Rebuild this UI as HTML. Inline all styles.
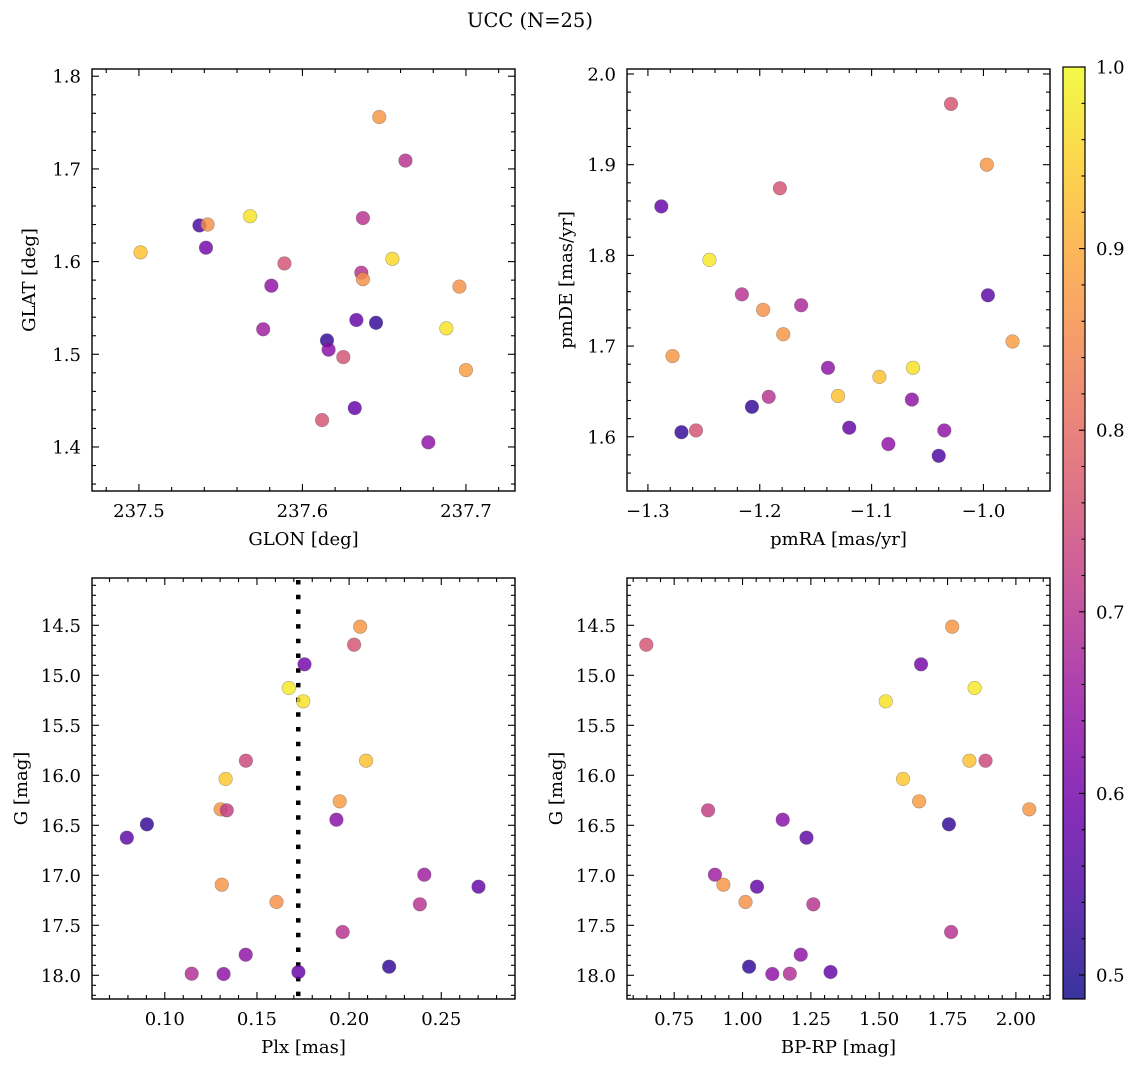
<!DOCTYPE html>
<html><head><meta charset="utf-8">
<style>
html,body{margin:0;padding:0;background:#fff;}
svg{display:block;font-family:"DejaVu Serif","Liberation Serif",serif;}
</style></head>
<body>
<svg id="fig" width="1136" height="1067" viewBox="0 0 1136 1067" xmlns="http://www.w3.org/2000/svg">
<defs>
<linearGradient id="cbgrad" x1="0" y1="1" x2="0" y2="0"></linearGradient>
</defs>
<text x="530" y="27" font-size="19.5" text-anchor="middle">UCC (N=25)</text>
<g id="root"></g>
</svg>
<script>
// ---------- data ----------
const glon = [237.647,237.663,237.568,237.537,237.542,237.637,237.501,237.541,237.589,237.655,237.636,237.637,237.581,237.696,237.633,237.645,237.576,237.688,237.615,237.616,237.625,237.700,237.632,237.612,237.677];
const glat = [1.756,1.709,1.649,1.639,1.640,1.647,1.610,1.615,1.598,1.603,1.588,1.581,1.574,1.573,1.537,1.534,1.527,1.528,1.515,1.505,1.497,1.483,1.442,1.429,1.405];
const probTL = [0.87,0.7,0.97,0.55,0.86,0.7,0.93,0.6,0.76,0.96,0.7,0.86,0.64,0.86,0.58,0.52,0.66,0.97,0.52,0.63,0.76,0.88,0.58,0.76,0.64];

const pmra = [-1.029,-0.997,-1.182,-1.288,-1.245,-0.996,-1.216,-1.163,-1.197,-1.179,-1.278,-0.974,-1.139,-1.063,-1.093,-1.130,-1.192,-1.064,-1.207,-1.120,-1.257,-1.270,-1.035,-1.085,-1.040];
const pmde = [1.967,1.900,1.874,1.854,1.795,1.756,1.757,1.745,1.740,1.713,1.689,1.705,1.676,1.676,1.666,1.645,1.644,1.641,1.633,1.610,1.607,1.605,1.607,1.592,1.579];
const probTR = [0.76,0.87,0.76,0.58,0.98,0.57,0.7,0.68,0.86,0.87,0.87,0.88,0.64,0.97,0.93,0.93,0.7,0.64,0.52,0.58,0.76,0.52,0.64,0.64,0.55];

const plx = [0.2060,0.2027,0.1758,0.1673,0.1751,0.1440,0.2092,0.1330,0.1949,0.1303,0.1336,0.1931,0.0903,0.0794,0.2408,0.2702,0.1309,0.1606,0.2384,0.1965,0.1439,0.2217,0.1146,0.1319,0.1725];
const gmag = [14.514,14.694,14.890,15.127,15.260,15.854,15.854,16.037,16.260,16.340,16.350,16.444,16.490,16.624,16.994,17.114,17.094,17.267,17.290,17.567,17.794,17.914,17.984,17.987,17.967];
const bprp = [1.767,0.648,1.653,1.849,1.524,1.889,1.830,1.587,1.646,2.049,0.874,1.147,1.755,1.234,0.899,1.053,0.930,1.011,1.259,1.763,1.213,1.024,1.173,1.109,1.322];
const probCMD = [0.87,0.76,0.6,0.98,0.97,0.74,0.93,0.94,0.88,0.87,0.72,0.63,0.52,0.57,0.66,0.58,0.87,0.86,0.7,0.7,0.64,0.52,0.69,0.64,0.58];
const plxMedian = [0.1724];

const ticksGlon = [237.5,237.6,237.7];
const ticksGlat = [1.4,1.5,1.6,1.7,1.8];
const ticksPmra = [-1.3,-1.2,-1.1,-1.0];
const ticksPmde = [1.6,1.7,1.8,1.9,2.0];
const ticksPlx = [0.10,0.15,0.20,0.25];
const ticksG = [14.5,15.0,15.5,16.0,16.5,17.0,17.5,18.0];
const ticksBprp = [0.75,1.00,1.25,1.50,1.75,2.00];
const ticksCbar = [0.5,0.6,0.7,0.8,0.9,1.0];

// ---------- helpers ----------
const NS = "http://www.w3.org/2000/svg";
const root = document.getElementById('root');
const FS = 18;
const plasma = ["#0d0887","#41049d","#6a00a8","#8f0da4","#b12a90","#cc4778","#e16462","#f2844b","#fca636","#fcce25","#f0f921"];
const VMIN = 0.4868, VMAX = 1.0;
function hex2rgb(h){return [parseInt(h.slice(1,3),16),parseInt(h.slice(3,5),16),parseInt(h.slice(5,7),16)];}
function cmap(v){
  let t=(v-VMIN)/(VMAX-VMIN); t=Math.max(0,Math.min(1,t));
  const p=t*10, i=Math.min(9,Math.floor(p)), f=p-i;
  const a=hex2rgb(plasma[i]), b=hex2rgb(plasma[i+1]);
  return 'rgb('+a.map((x,k)=>Math.round(x+(b[k]-x)*f)).join(',')+')';
}
function el(tag, attrs, parent){
  const e=document.createElementNS(NS,tag);
  for(const k in attrs) e.setAttribute(k,attrs[k]);
  (parent||root).appendChild(e); return e;
}
function fmt(v,d){return (v<0?'\u2212':'')+Math.abs(v).toFixed(d);}

function panel(cfg){
  const {x0,x1,y0,y1,xmin,xmax,ymin,ymax,invY} = cfg;
  const sx = v => x0 + (v-xmin)/(xmax-xmin)*(x1-x0);
  const sy = v => invY ? y0 + (v-ymin)/(ymax-ymin)*(y1-y0) : y1 - (v-ymin)/(ymax-ymin)*(y1-y0);
  const g = el('g',{});
  
  
  const tk = el('g',{stroke:'#000','stroke-width':1.1},g);
  
  
  const xlo=Math.min(xmin,xmax), xhi=Math.max(xmin,xmax);
  for(let k=Math.ceil(xlo/cfg.xminor-1e-6); k*cfg.xminor<=xhi+1e-9; k++){
    const v=k*cfg.xminor, px=sx(v);
    const major = cfg.xticks.some(t=>Math.abs(t-v)<1e-6);
    const L = major?7:4;
    el('line',{x1:px,x2:px,y1:y1,y2:y1-L},tk);
    el('line',{x1:px,x2:px,y1:y0,y2:y0+L},tk);
  }
  const ylo=Math.min(ymin,ymax), yhi=Math.max(ymin,ymax);
  for(let k=Math.ceil(ylo/cfg.yminor-1e-6); k*cfg.yminor<=yhi+1e-9; k++){
    const v=k*cfg.yminor, py=sy(v);
    const major = cfg.yticks.some(t=>Math.abs(t-v)<1e-6);
    const L = major?7:4;
    el('line',{x1:x0,x2:x0+L,y1:py,y2:py},tk);
    el('line',{x1:x1,x2:x1-L,y1:py,y2:py},tk);
  }
  cfg.xticks.forEach(t=>{
    const tx = el('text',{x:sx(t),y:y1+26,'font-size':FS,'text-anchor':'middle'},g);
    tx.textContent = fmt(t,cfg.xdec);
    
    
  });
  cfg.yticks.forEach(t=>{
    const tx = el('text',{x:x0-11,y:sy(t)+6.5,'font-size':FS,'text-anchor':'end'},g);
    tx.textContent = fmt(t,cfg.ydec);
    
    
  });
  const xt = el('text',{x:(x0+x1)/2,y:y1+54,'font-size':FS,'text-anchor':'middle'},g);
  xt.textContent = cfg.xlabel;
  
  
  const yt = el('text',{x:0,y:0,'font-size':FS,'text-anchor':'middle',transform:'translate('+cfg.ylx+','+((y0+y1)/2)+') rotate(-90)'},g);
  yt.textContent = cfg.ylabel;
  
  
  if(cfg.vline){
    cfg.vline.forEach(v=>{
      const ln = el('line',{x1:sx(v),x2:sx(v),y1:y0+2,y2:y1,stroke:'#000','stroke-width':4.5,'stroke-dasharray':'4.5 10.2'},g);
      
      
    });
  }
  const pts = el('g',{},g);
  
  
  cfg.xs.forEach((xv,i)=>{
    const c = el('circle',{cx:sx(xv),cy:sy(cfg.ys[i]),r:6.8,fill:cmap(cfg.cs[i]),'fill-opacity':0.82,stroke:'rgba(80,80,80,0.45)','stroke-width':0.6},pts);
    
    
  });
  const fr = el('rect',{x:x0,y:y0,width:x1-x0,height:y1-y0,fill:'none',stroke:'#000','stroke-width':1.4},g);
  
  
}

panel({name:'glon-glat-panel',x0:92,x1:515,y0:69,y1:491,xmin:237.4713,xmax:237.730,ymin:1.3525,ymax:1.8078,
  xticks:ticksGlon,yticks:ticksGlat,xminor:0.02,yminor:0.02,xdec:1,ydec:1,xlabel:'GLON [deg]',ylabel:'GLAT [deg]',ylx:35,
  xs:glon,ys:glat,cs:probTL});
panel({name:'pm-panel',x0:627,x1:1050,y0:69,y1:491,xmin:-1.3187,xmax:-0.9405,ymin:1.5402,ymax:2.0055,
  xticks:ticksPmra,yticks:ticksPmde,xminor:0.02,yminor:0.02,xdec:1,ydec:1,xlabel:'pmRA [mas/yr]',ylabel:'pmDE [mas/yr]',ylx:572,
  xs:pmra,ys:pmde,cs:probTR});
panel({name:'plx-g-panel',x0:92,x1:515,y0:578,y1:999,xmin:0.0605,xmax:0.2900,ymin:14.027,ymax:18.237,invY:true,
  xticks:ticksPlx,yticks:ticksG,xminor:0.01,yminor:0.1,xdec:2,ydec:1,xlabel:'Plx [mas]',ylabel:'G [mag]',ylx:27,
  xs:plx,ys:gmag,cs:probCMD,vline:plxMedian});
panel({name:'cmd-panel',x0:627,x1:1050,y0:578,y1:999,xmin:0.5774,xmax:2.1248,ymin:14.027,ymax:18.237,invY:true,
  xticks:ticksBprp,yticks:ticksG,xminor:0.05,yminor:0.1,xdec:2,ydec:1,xlabel:'BP-RP [mag]',ylabel:'G [mag]',ylx:562,
  xs:bprp,ys:gmag,cs:probCMD});

// ---------- colorbar ----------
const grad = document.getElementById('cbgrad');
for(let i=0;i<=20;i++){
  const v = VMIN + (VMAX-VMIN)*i/20;
  el('stop',{offset:(i/20*100)+'%','stop-color':cmap(v),'stop-opacity':0.82},grad);
}
const cbX0=1063, cbX1=1085, cbY0=67, cbY1=999;
const cy = v => cbY1 - (v-VMIN)/(VMAX-VMIN)*(cbY1-cbY0);
const cb = el('g',{});


el('rect',{x:cbX0,y:cbY0,width:cbX1-cbX0,height:cbY1-cbY0,fill:'url(#cbgrad)',stroke:'#000','stroke-width':1.2},cb);
for(let k=25;k<=50;k++){
  const v=k*0.02; if(v<VMIN-1e-9||v>VMAX+1e-9) continue;
  const major = Math.abs(v*10-Math.round(v*10))<1e-6;
  el('line',{x1:cbX1,x2:cbX1-(major?6:3.5),y1:cy(v),y2:cy(v),stroke:'#000','stroke-width':1.1},cb);
}
ticksCbar.forEach(t=>{
  const tx = el('text',{x:1096,y:cy(t)+6.5,'font-size':FS},cb);
  tx.textContent = t.toFixed(1);
  
  
});
</script>
</body></html>
